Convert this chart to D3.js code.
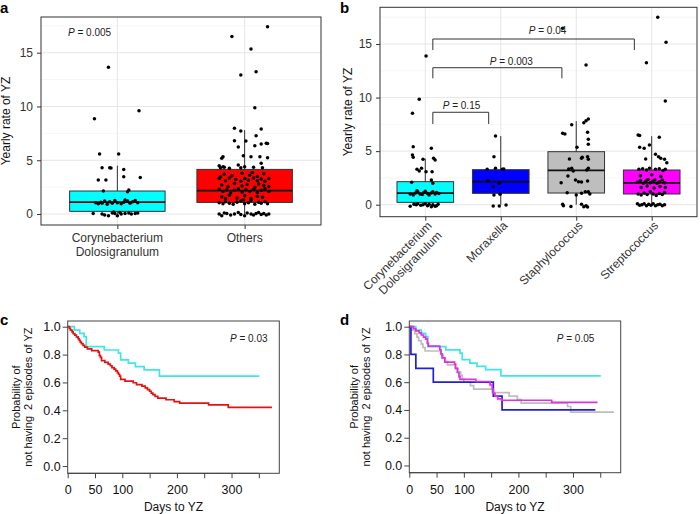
<!DOCTYPE html>
<html>
<head>
<meta charset="utf-8">
<script src="https://cdn.jsdelivr.net/npm/d3@7"></script>
<style>
body { margin: 0; background: #fff; }
svg text { font-family: "Liberation Sans", Arial, Helvetica, sans-serif; }
</style>
</head>
<body>
<svg id="fig" width="700" height="514"></svg>
<script>

// ================================================================================================
// Data

// Panel a categories, box statistics and jittered points [jitter, rate]
var catsA = ['Corynebacterium\nDolosigranulum', 'Others'];
var fillsA = ['#00ffff', '#ff0000'];
var statsA = [
    { lo: 0, q1: 0.25, med: 1.1, q3: 2.14, hi: 4.5 },
    { lo: 0, q1: 1.08, med: 2.17, q3: 4.15, hi: 7.8 }
];
var ptsCoryneA = [
    [-0.07, 13.65], [-0.18, 8.87], [0.17, 9.6], [-0.14, 5.58], [0.01, 5.58], [-0.12, 4.3], [-0.06, 4.3],
    [-0.05, 4.28], [0.05, 4.15], [-0.15, 3.16], [-0.09, 3.16], [0.05, 3.47], [0.18, 3.4], [-0.11, 2.14],
    [0.09, 2.23], [0.08, 2.07],
    [-0.17, 1.05], [-0.15, 0.95], [-0.13, 1.1], [-0.1, 1.2], [-0.08, 0.9], [-0.06, 1.15], [-0.04, 1.0],
    [-0.02, 1.25], [0.0, 1.05], [0.03, 0.95], [0.05, 1.1], [0.08, 1.2], [0.1, 1.0], [0.12, 1.15],
    [0.14, 1.25], [0.16, 1.05], [-0.12, 1.0], [0.06, 1.3],
    [-0.19, 0.05], [-0.12, 0.0], [-0.1, -0.1], [-0.07, -0.15], [-0.04, 0.1], [-0.02, 0.05], [0.0, -0.15],
    [0.03, 0.0], [0.06, 0.05], [0.09, 0.1], [0.11, 0.0], [0.14, 0.05], [-0.03, 0.2], [0.02, 0.15], [0.16, 0.1]
];
var ptsOthersA = [
    [0.18, 17.42], [-0.1, 16.5], [0.05, 15.35], [-0.03, 12.93], [0.09, 13.24], [0.08, 9.89],
    [-0.08, 7.97], [-0.03, 7.72], [0.13, 7.9], [0.09, 7.28],
    [-0.08, 6.82], [0.01, 6.79], [-0.05, 6.23], [0.08, 6.35], [0.13, 6.5], [0.17, 6.57], [0.18, 6.55],
    [-0.17, 5.33], [-0.18, 5.18], [-0.01, 5.42], [0.05, 5.33], [0.12, 5.33], [0.18, 5.24],
    [-0.2, 4.5], [-0.17, 4.4], [-0.16, 4.34], [-0.12, 4.25], [-0.05, 4.56], [-0.03, 4.31], [0.07, 4.34],
    [0.13, 4.72], [0.14, 4.31], [-0.19, 4.3], [0.0, 4.4],
    [-0.16, 3.7], [-0.1, 3.55], [-0.02, 3.8], [0.04, 3.6], [0.1, 3.5], [0.15, 3.75], [-0.19, 3.45], [0.06, 3.85],
    [-0.2, 3.3], [-0.15, 3.1], [-0.12, 3.35], [-0.07, 3.2], [-0.03, 3.05], [0.0, 3.3], [0.03, 3.15],
    [0.07, 3.35], [0.1, 3.1], [0.13, 3.25], [0.16, 3.05], [0.19, 3.3],
    [-0.18, 2.7], [-0.13, 2.55], [-0.08, 2.85], [-0.02, 2.6], [0.02, 2.75], [0.08, 2.5], [0.11, 2.8],
    [0.15, 2.65], [0.19, 2.55],
    [-0.2, 2.3], [-0.17, 2.1], [-0.14, 2.25], [-0.11, 1.95], [-0.08, 2.2], [-0.05, 2.35], [-0.02, 2.05],
    [0.01, 2.25], [0.04, 2.1], [0.07, 2.3], [0.1, 2.0], [0.13, 2.2], [0.16, 2.35], [0.19, 2.1],
    [-0.18, 1.6], [-0.12, 1.75], [-0.06, 1.5], [0.0, 1.7], [0.05, 1.45], [0.1, 1.65], [0.14, 1.55], [-0.15, 1.45],
    [-0.2, 1.05], [-0.17, 0.95], [-0.15, 1.15], [-0.12, 1.0], [-0.09, 0.9], [-0.06, 1.1], [-0.03, 1.2],
    [0.0, 0.95], [0.03, 1.05], [0.05, 1.25], [0.08, 0.9], [0.11, 1.1], [0.13, 1.0], [0.16, 1.15],
    [0.18, 0.95], [-0.01, 1.3],
    [-0.2, 0.0], [-0.18, -0.15], [-0.16, 0.1], [-0.14, 0.05], [-0.11, -0.1], [-0.08, 0.0], [-0.05, 0.15],
    [-0.03, -0.05], [0.0, -0.15], [0.02, 0.1], [0.05, 0.0], [0.07, -0.1], [0.09, 0.05], [0.11, 0.15],
    [0.13, -0.05], [0.15, 0.05], [0.17, -0.1], [0.19, 0.0]
];

// Panel b
var catsB = ['Corynebacterium\nDolosigranulum', 'Moraxella', 'Staphylococcus', 'Streptococcus'];
var fillsB = ['#00ffff', '#0000ff', '#bebebe', '#ff00ff'];
var statsB = [
    { lo: 0, q1: 0.22, med: 1.09, q3: 2.15, hi: 4.3 },
    { lo: 0, q1: 1.06, med: 2.15, q3: 3.27, hi: 6.41 },
    { lo: 0, q1: 1.09, med: 3.2, q3: 4.95, hi: 7.8 },
    { lo: 0, q1: 1.0, med: 2.03, q3: 3.24, hi: 6.4 }
];
var ptsCoryneB = [
    [0.01, 13.88], [-0.08, 9.84], [-0.17, 8.53], [-0.16, 5.42], [0.08, 5.26], [-0.17, 4.64], [-0.16, 4.42],
    [-0.03, 4.24], [0.11, 4.33], [0.13, 4.17], [-0.11, 3.3], [-0.08, 3.15], [-0.05, 3.4], [0.01, 3.08],
    [0.09, 3.08], [-0.18, 2.09], [0.08, 2.3], [0.1, 2.0],
    [-0.2, 1.0], [-0.16, 0.9], [-0.13, 1.1], [-0.1, 1.2], [-0.07, 1.0], [-0.04, 0.95], [-0.02, 1.15],
    [0.0, 1.25], [0.03, 1.05], [0.05, 0.9], [0.08, 1.1], [0.1, 1.2], [0.13, 1.0], [0.15, 1.15],
    [0.18, 1.05], [-0.11, 1.3],
    [-0.2, -0.15], [-0.15, 0.05], [-0.1, 0.1], [-0.06, -0.05], [-0.03, 0.0], [0.0, 0.1], [0.03, -0.1],
    [0.05, 0.05], [0.08, -0.2], [0.1, 0.0], [0.13, -0.15], [0.15, -0.1], [0.17, 0.05], [-0.12, 0.0]
];
var ptsMoraxB = [
    [-0.07, 6.41], [-0.09, 4.48], [-0.18, 3.3], [-0.07, 3.4], [0.02, 3.3], [0.04, 3.33], [-0.17, 2.24],
    [-0.02, 2.0], [-0.1, 1.68], [-0.09, 0.9], [-0.01, 0.97], [-0.1, -0.12], [-0.02, -0.12], [0.07, -0.03]
];
var ptsStaphB = [
    [-0.18, 16.47], [0.13, 13.04], [-0.06, 7.47], [0.1, 7.66], [0.13, 7.84], [0.16, 8.0], [-0.18, 6.67],
    [-0.15, 6.6], [0.15, 6.76], [0.16, 6.1], [0.16, 5.64], [0.01, 5.36], [0.07, 4.33], [0.08, 4.42],
    [-0.09, 4.27], [0.15, 4.48], [0.16, 4.24], [-0.1, 3.33], [-0.06, 3.4], [-0.04, 3.15], [0.14, 3.24],
    [0.16, 3.4], [-0.11, 2.68], [-0.01, 2.3], [0.03, 2.15], [0.07, 2.12], [0.15, 2.21], [-0.2, 2.05],
    [-0.12, 1.12], [0.0, 0.9], [0.07, 1.06], [0.12, 1.21], [0.16, 1.21], [0.18, 1.0], [-0.18, 0.04],
    [-0.17, -0.1], [-0.07, -0.16], [0.07, 0.04], [0.1, -0.18], [0.13, -0.1], [0.15, -0.22]
];
var ptsStrepB = [
    [0.08, 17.5], [0.19, 15.16], [-0.07, 13.26], [0.18, 9.68], [-0.18, 6.51], [-0.16, 6.45], [0.1, 6.29],
    [-0.16, 5.36], [-0.1, 5.26], [-0.03, 5.57], [0.05, 4.71], [-0.08, 4.27], [0.09, 4.48], [0.12, 4.33],
    [0.17, 4.24], [0.2, 3.92],
    [-0.17, 3.3], [-0.12, 3.35], [-0.07, 3.25], [-0.03, 3.4], [0.05, 3.3], [0.1, 3.35], [0.15, 3.2], [0.18, 3.3],
    [-0.15, 2.7], [0.0, 2.8], [0.12, 2.65],
    [-0.19, 2.1], [-0.15, 2.25], [-0.11, 2.0], [-0.08, 2.2], [-0.05, 2.35], [-0.02, 2.05], [0.01, 2.2],
    [0.04, 2.3], [0.07, 2.0], [0.1, 2.15], [0.14, 2.3], [0.17, 2.05],
    [-0.14, 1.6], [-0.06, 1.75], [0.03, 1.55], [0.11, 1.7], [0.18, 1.6],
    [-0.18, 1.0], [-0.14, 0.9], [-0.1, 1.1], [-0.06, 0.95], [-0.02, 1.2], [0.02, 1.0], [0.06, 0.85],
    [0.1, 1.05], [0.14, 0.95], [0.17, 1.15],
    [-0.19, 0.1], [-0.16, -0.05], [-0.13, 0.0], [-0.1, 0.1], [-0.07, -0.1], [-0.04, 0.05], [-0.01, -0.05],
    [0.02, 0.1], [0.05, -0.1], [0.08, 0.0], [0.11, 0.05], [0.14, -0.1], [0.17, 0.0]
];
// Comparison brackets of panel b (category units / rate units)
var bracketsB = [
    { from: 1.1, to: 1.84, top: 8.63, leg: 7.53, label: '0.15', at: 1.48, ly: 8.95 },
    { from: 1.1, to: 2.81, top: 12.79, leg: 11.8, label: '0.003', at: 2.14, ly: 13.06 },
    { from: 1.1, to: 3.77, top: 15.47, leg: 14.44, label: '0.04', at: 2.62, ly: 15.93 }
];

// Kaplan-Meier steps [day, survival]; the last entry is the end of follow-up
var kmCoryne = [
    [0, 1], [12, 0.976], [22, 0.952], [30, 0.929], [34, 0.857], [67, 0.833], [93, 0.81], [97, 0.762],
    [111, 0.738], [124, 0.714], [140, 0.69], [168, 0.645], [351, 0.645]
];
var kmOthers = [
    [0, 1], [3, 0.988], [5, 0.976], [8, 0.963], [10, 0.951], [13, 0.939], [16, 0.927], [19, 0.915],
    [21, 0.902], [23, 0.89], [25, 0.878], [28, 0.866], [31, 0.854], [36, 0.841], [44, 0.829], [56, 0.817],
    [58, 0.793], [60, 0.78], [62, 0.756], [68, 0.744], [74, 0.732], [78, 0.72], [81, 0.707], [85, 0.695],
    [88, 0.683], [91, 0.671], [93, 0.659], [95, 0.646], [97, 0.622], [105, 0.61], [120, 0.598],
    [126, 0.585], [136, 0.573], [142, 0.561], [146, 0.549], [150, 0.537], [153, 0.524], [156, 0.512],
    [160, 0.5], [165, 0.488], [180, 0.476], [195, 0.463], [205, 0.451], [258, 0.439], [294, 0.421],
    [374, 0.421]
];
var kmMorax = [[0, 1], [3, 0.8], [12, 0.7], [44, 0.6], [154, 0.5], [170, 0.4], [341, 0.4]];
var kmStaph = [
    [0, 1], [5, 0.975], [10, 0.95], [14, 0.925], [17, 0.9], [22, 0.875], [25, 0.85], [29, 0.825],
    [58, 0.8], [62, 0.775], [66, 0.75], [70, 0.725], [84, 0.7], [90, 0.675], [94, 0.65], [97, 0.625],
    [100, 0.6], [112, 0.575], [118, 0.55], [152, 0.525], [183, 0.5], [198, 0.475], [205, 0.45],
    [290, 0.425], [296, 0.385], [375, 0.385]
];
var kmStrep = [
    [0, 1], [8, 0.985], [12, 0.97], [18, 0.955], [22, 0.94], [26, 0.925], [30, 0.91], [33, 0.88],
    [35, 0.86], [56, 0.835], [58, 0.805], [60, 0.775], [65, 0.745], [83, 0.73], [85, 0.7], [88, 0.67],
    [91, 0.64], [93, 0.62], [122, 0.605], [148, 0.58], [152, 0.55], [154, 0.52], [157, 0.5], [162, 0.48],
    [169, 0.47], [261, 0.455], [345, 0.455]
];
var kmTicks = [0, 50, 100, 150, 200, 250, 300, 350];
var kmTickLabels = [0, 50, 100, 200, 300];
var kmYTicks = [0, 0.2, 0.4, 0.6, 0.8, 1.0];

// ================================================================================================
// Drawing

var svg = d3.select('#fig');
svg.append('rect').attr('width', 700).attr('height', 514).attr('fill', '#fff');

// Italic "P" followed by " = value"
function pText(sel, value) {
    sel.append('tspan').attr('font-style', 'italic').text('P');
    sel.append('tspan').text(' = ' + value);
}

function drawBoxPanel(p) {
    var g = svg.append('g');
    var n = p.cats.length;
    var x = d3.scaleLinear().domain([0.4, n + 0.6]).range([p.left, p.right]);
    var y = d3.scaleLinear().domain(p.yDomain).range([p.bottom, p.top]);
    var hw = x(1.375) - x(1);

    // grid
    g.selectAll('line.minor').data([2.5, 7.5, 12.5, 17.5]).enter().append('line')
        .attr('x1', p.left).attr('x2', p.right)
        .attr('y1', function (d) { return y(d); }).attr('y2', function (d) { return y(d); })
        .attr('stroke', '#f0f0f0').attr('stroke-width', 0.6);
    g.selectAll('line.majy').data([0, 5, 10, 15]).enter().append('line')
        .attr('x1', p.left).attr('x2', p.right)
        .attr('y1', function (d) { return y(d); }).attr('y2', function (d) { return y(d); })
        .attr('stroke', '#e6e6e6').attr('stroke-width', 1);
    g.selectAll('line.majx').data(d3.range(1, n + 1)).enter().append('line')
        .attr('y1', p.top).attr('y2', p.bottom)
        .attr('x1', function (d) { return x(d); }).attr('x2', function (d) { return x(d); })
        .attr('stroke', '#e6e6e6').attr('stroke-width', 1);

    // whiskers
    g.selectAll('line.wh').data(p.stats).enter().append('line')
        .attr('x1', function (d, i) { return x(i + 1); }).attr('x2', function (d, i) { return x(i + 1); })
        .attr('y1', function (d) { return y(d.lo); }).attr('y2', function (d) { return y(d.hi); })
        .attr('stroke', '#333').attr('stroke-width', 1);
    // boxes
    g.selectAll('rect.box').data(p.stats).enter().append('rect')
        .attr('x', function (d, i) { return x(i + 1) - hw; })
        .attr('width', 2 * hw)
        .attr('y', function (d) { return y(d.q3); })
        .attr('height', function (d) { return y(d.q1) - y(d.q3); })
        .attr('fill', function (d, i) { return p.fills[i]; })
        .attr('stroke', '#333').attr('stroke-width', 1);
    g.selectAll('line.med').data(p.stats).enter().append('line')
        .attr('x1', function (d, i) { return x(i + 1) - hw; }).attr('x2', function (d, i) { return x(i + 1) + hw; })
        .attr('y1', function (d) { return y(d.med); }).attr('y2', function (d) { return y(d.med); })
        .attr('stroke', '#111').attr('stroke-width', 1.8);

    // jittered points
    p.points.forEach(function (pts, i) {
        g.selectAll(null).data(pts).enter().append('circle')
            .attr('cx', function (d) { return x(i + 1 + d[0]); })
            .attr('cy', function (d) { return y(d[1]); })
            .attr('r', 1.75).attr('fill', '#000');
    });

    // border
    g.append('rect').attr('x', p.left).attr('y', p.top)
        .attr('width', p.right - p.left).attr('height', p.bottom - p.top)
        .attr('fill', 'none').attr('stroke', '#333').attr('stroke-width', 1);

    // y axis
    var ya = g.append('g').attr('transform', 'translate(' + p.left + ',0)')
        .call(d3.axisLeft(y).tickValues([0, 5, 10, 15]).tickSize(4).tickPadding(4));
    ya.select('.domain').remove();
    ya.selectAll('line').attr('stroke', '#333');
    ya.selectAll('text').style('font-size', '12px').attr('fill', '#333');

    // x ticks
    var xa = g.append('g').attr('transform', 'translate(0,' + p.bottom + ')')
        .call(d3.axisBottom(x).tickValues(d3.range(1, n + 1)).tickSize(4).tickFormat(''));
    xa.select('.domain').remove();
    xa.selectAll('line').attr('stroke', '#333');

    // y title
    g.append('text')
        .attr('transform', 'translate(' + p.titleX + ',' + ((p.top + p.bottom) / 2) + ') rotate(-90)')
        .attr('text-anchor', 'middle').style('font-size', '12px').attr('fill', '#111')
        .text('Yearly rate of YZ');

    return { g: g, x: x, y: y };
}

// ---- panel a
var pa = drawBoxPanel({
    left: 41, right: 321, top: 17, bottom: 225, yDomain: [-1.02, 18.32],
    cats: catsA, fills: fillsA, stats: statsA, points: [ptsCoryneA, ptsOthersA], titleX: 10
});
catsA.forEach(function (c, i) {
    var t = pa.g.append('text').attr('text-anchor', 'middle').style('font-size', '12px').attr('fill', '#333');
    c.split('\n').forEach(function (line, k) {
        t.append('tspan').attr('x', pa.x(i + 1)).attr('y', 242 + k * 14).text(line);
    });
});
pa.g.append('text').attr('x', 68).attr('y', 36).style('font-size', '10px').attr('fill', '#222')
    .call(pText, '0.005');

// ---- panel b
var pb = drawBoxPanel({
    left: 380, right: 697, top: 7.3, bottom: 216.7, yDomain: [-1.12, 18.43],
    cats: catsB, fills: fillsB, stats: statsB,
    points: [ptsCoryneB, ptsMoraxB, ptsStaphB, ptsStrepB], titleX: 351.5
});
catsB.forEach(function (c, i) {
    var t = pb.g.append('text')
        .attr('transform', 'translate(' + (pb.x(i + 1) + 1) + ',220) rotate(-45)')
        .attr('text-anchor', 'end').style('font-size', '12px').attr('fill', '#333');
    c.split('\n').forEach(function (line, k) {
        t.append('tspan').attr('x', 0).attr('y', 9 + k * 14).text(line);
    });
});
bracketsB.forEach(function (b) {
    var x = pb.x, y = pb.y;
    pb.g.append('path')
        .attr('d', 'M' + x(b.from) + ',' + y(b.leg) + 'V' + y(b.top) + 'H' + x(b.to) + 'V' + y(b.leg))
        .attr('fill', 'none').attr('stroke', '#333').attr('stroke-width', 1);
    pb.g.append('text').attr('x', x(b.at)).attr('y', y(b.ly)).attr('text-anchor', 'middle')
        .style('font-size', '10px').attr('fill', '#222').call(pText, b.label);
});

// ---- Kaplan-Meier panels
function drawKmPanel(p) {
    var g = svg.append('g');
    var x = d3.scaleLinear().domain([0, 387.5]).range([p.left, p.right]);
    var y = d3.scaleLinear().domain([-0.052, 1.041]).range([p.bottom, p.top]);
    var line = d3.line()
        .x(function (d) { return x(d[0]); })
        .y(function (d) { return y(d[1]); })
        .curve(d3.curveStepAfter);

    p.curves.forEach(function (c) {
        g.append('path').datum(c.data).attr('d', line)
            .attr('fill', 'none').attr('stroke', c.color).attr('stroke-width', 1.7);
    });

    g.append('rect').attr('x', p.left).attr('y', p.top)
        .attr('width', p.right - p.left).attr('height', p.bottom - p.top)
        .attr('fill', 'none').attr('stroke', '#444').attr('stroke-width', 1);

    var ya = g.append('g').attr('transform', 'translate(' + p.left + ',0)')
        .call(d3.axisLeft(y).tickValues(kmYTicks).tickFormat(d3.format('.1f')).tickSize(5).tickPadding(2));
    ya.select('.domain').remove();
    ya.selectAll('line').attr('stroke', '#444');
    ya.selectAll('text').style('font-size', '12.5px').attr('fill', '#111');

    var xa = g.append('g').attr('transform', 'translate(0,' + p.bottom + ')')
        .call(d3.axisBottom(x).tickValues(kmTicks).tickSize(5).tickPadding(7)
            .tickFormat(function (d) { return kmTickLabels.indexOf(d) >= 0 ? d : ''; }));
    xa.select('.domain').attr('d', 'M' + x(0) + ',0H' + x(350)).attr('stroke', '#444');
    xa.selectAll('line').attr('stroke', '#444');
    xa.selectAll('text').style('font-size', '12.5px').attr('fill', '#111');

    g.append('text').attr('x', (p.left + p.right) / 2).attr('y', 511).attr('text-anchor', 'middle')
        .style('font-size', '12px').attr('fill', '#111').text('Days to YZ');

    var cy = (p.top + p.bottom) / 2;
    g.append('text').attr('transform', 'translate(' + p.title1 + ',' + cy + ') rotate(-90)')
        .attr('text-anchor', 'middle').style('font-size', '11px').attr('fill', '#111')
        .text('Probability of');
    g.append('text').attr('transform', 'translate(' + p.title2 + ',' + cy + ') rotate(-90)')
        .attr('text-anchor', 'middle').style('font-size', '11px').style('white-space', 'pre').attr('fill', '#111')
        .text('not having  2 episodes of YZ');

    g.append('text').attr('x', p.pX).attr('y', 342).attr('text-anchor', 'end')
        .style('font-size', '10px').attr('fill', '#222').call(pText, p.pValue);
}

drawKmPanel({
    left: 67.7, right: 279.3, top: 321, bottom: 473.3, title1: 19.5, title2: 31.5,
    pX: 267.5, pValue: '0.03',
    curves: [{ data: kmCoryne, color: '#3fe6e6' }, { data: kmOthers, color: '#e01414' }]
});
drawKmPanel({
    left: 409.3, right: 620.7, top: 321, bottom: 472.7, title1: 358, title2: 370,
    pX: 594.3, pValue: '0.05',
    curves: [
        { data: kmCoryne, color: '#3fe6e6' }, { data: kmStaph, color: '#bdbdbd' },
        { data: kmMorax, color: '#2020dc' }, { data: kmStrep, color: '#e030e0' }
    ]
});

// panel letters
[['a', 0, 13], ['b', 340, 13], ['c', 0, 325], ['d', 340, 325]].forEach(function (l) {
    svg.append('text').attr('x', l[1]).attr('y', l[2]).style('font-size', '15px')
        .attr('font-weight', 'bold').attr('fill', '#000').text(l[0]);
});
</script>
</body>
</html>
